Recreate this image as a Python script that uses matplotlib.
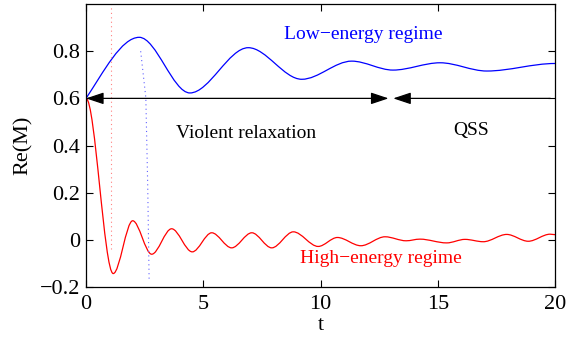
import matplotlib
matplotlib.use("Agg")
import matplotlib.pyplot as plt
from matplotlib.path import Path
from matplotlib.patches import PathPatch

# ---- data (extrema of the oscillating curves) ----
low_t = [0.0, 2.27, 4.43, 6.92, 9.2, 11.33, 13.09, 15.1, 17.09, 20.0]
low_y = [0.60, 0.859, 0.623, 0.815, 0.681, 0.758, 0.720, 0.751, 0.716, 0.748]
low_start_slope = 0.15

high_t = [0.0, 1.16, 1.99, 2.80, 3.65, 4.53, 5.36, 6.21, 7.07, 7.92, 8.84,
          9.90, 10.72, 11.72, 12.75, 13.65, 14.24, 15.38, 16.16, 16.94,
          17.94, 18.86, 19.79, 20.0]
high_y = [0.60, -0.143, 0.081, -0.061, 0.047, -0.051, 0.030, -0.034, 0.030,
          -0.034, 0.034, -0.028, 0.010, -0.025, 0.013, -0.004, 0.003, -0.013,
          0.002, -0.008, 0.023, -0.006, 0.024, 0.022]

red_dot_t = [1.07, 1.07]
red_dot_y = [-0.04, 1.0]
blue_dot_t = [2.33, 2.55, 2.63, 2.69]
blue_dot_y = [0.80, 0.603, 0.232, -0.168]

xticks = [0, 5, 10, 15, 20]
yticks = [-0.2, 0, 0.2, 0.4, 0.6, 0.8]
ytick_labels = ['\u22120.2', '0', '0.2', '0.4', '0.6', '0.8']

plt.rcParams['font.family'] = ['Liberation Serif', 'DejaVu Serif']
plt.rcParams['mathtext.fontset'] = 'stix'


def smooth_path(ts, ys, start_slope=0.0):
    verts = [(ts[0], ys[0])]
    codes = [Path.MOVETO]
    for i in range(len(ts) - 1):
        t0, t1 = ts[i], ts[i + 1]
        y0, y1 = ys[i], ys[i + 1]
        dt = t1 - t0
        m0 = start_slope if i == 0 else 0.0
        verts += [(t0 + dt / 3, y0 + m0 * dt / 3), (t1 - dt / 3, y1), (t1, y1)]
        codes += [Path.CURVE4] * 3
    return Path(verts, codes)


fig = plt.figure(figsize=(5.66, 3.39), dpi=100)
ax = fig.add_axes([0.152, 0.1534, 0.8286, 0.8346])

ax.add_patch(PathPatch(smooth_path(low_t, low_y, low_start_slope),
                       fill=False, edgecolor='#0000ff', lw=0.9))
ax.add_patch(PathPatch(smooth_path(high_t, high_y), fill=False,
                       edgecolor='#ff0000', lw=0.9))

ax.plot(red_dot_t, red_dot_y, ls=(0, (1, 3)), color='#ff8080', lw=0.8)
ax.plot(blue_dot_t, blue_dot_y, ls=(0, (1, 3)), color='#6060ff', lw=0.8)

# arrows
ax.annotate('', xy=(0.0, 0.6), xytext=(12.9, 0.6),
            arrowprops=dict(arrowstyle='<|-|>,head_length=0.9,head_width=0.3',
                            color='black', lw=0.9, shrinkA=0, shrinkB=0,
                            mutation_scale=12))
ax.annotate('', xy=(13.1, 0.6), xytext=(19.8, 0.6),
            arrowprops=dict(arrowstyle='-|>,head_length=0.9,head_width=0.3',
                            color='black', lw=0.9, shrinkA=0, shrinkB=0,
                            mutation_scale=12))

ax.text(11.81, 0.872, 'Low\u2212energy regime', color='#0000ff', fontsize=14,
        ha='center', va='center')
ax.text(6.84, 0.45, 'Violent relaxation', color='black', fontsize=14,
        ha='center', va='center')
ax.text(16.42, 0.463, 'QSS', color='black', fontsize=14,
        ha='center', va='center')
ax.text(12.58, -0.08, 'High\u2212energy regime', color='#ff0000', fontsize=14,
        ha='center', va='center')

ax.set_xlim(0, 20)
ax.set_ylim(-0.2, 1.0)
ax.set_xticks(xticks)
ax.set_xticklabels([str(v) for v in xticks])
ax.set_yticks(yticks)
ax.set_yticklabels(ytick_labels)
ax.tick_params(direction='in', length=5, width=0.8, labelsize=16,
               top=True, right=True, pad=4)
ax.tick_params(axis='x', pad=6)
for s in ax.spines.values():
    s.set_linewidth(0.9)

ax.set_xlabel('t', fontsize=16, labelpad=1)
ax.set_ylabel('Re(M)', fontsize=16, labelpad=5)

fig.savefig('out.png', dpi=100)
